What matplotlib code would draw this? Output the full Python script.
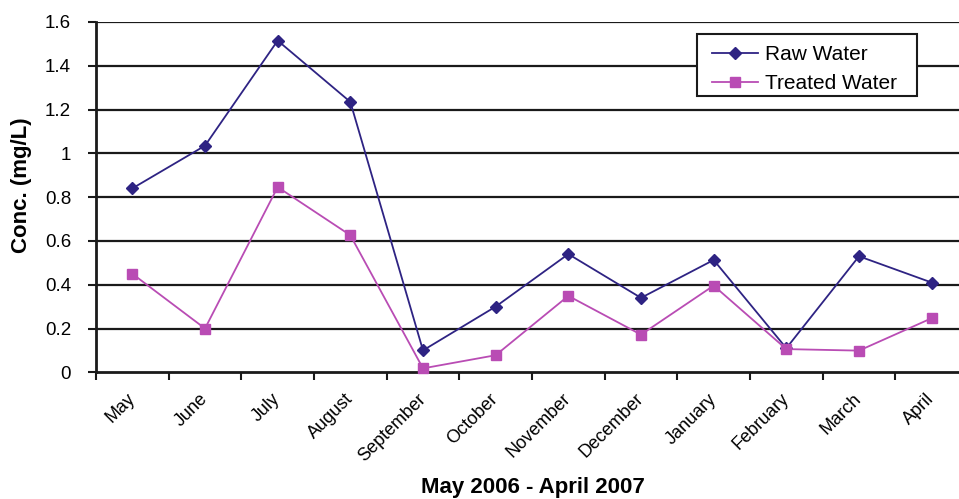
import matplotlib
matplotlib.use("Agg")
import matplotlib.pyplot as plt
import matplotlib.transforms as mtransforms
from matplotlib.patches import Rectangle
import numpy as np

months = ["May", "June", "July", "August", "September", "October", "November",
          "December", "January", "February", "March", "April"]
raw_water = [0.84, 1.035, 1.515, 1.235, 0.10, 0.30, 0.54, 0.34, 0.513, 0.11, 0.53, 0.41]
treated_water = [0.45, 0.20, 0.846, 0.626, 0.018, 0.078, 0.349, 0.172, 0.396, 0.106, 0.099, 0.247]
y_ticks = [0, 0.2, 0.4, 0.6, 0.8, 1, 1.2, 1.4, 1.6]
y_tick_labels = ["0", "0.2", "0.4", "0.6", "0.8", "1", "1.2", "1.4", "1.6"]

plt.rcParams['font.family'] = ['Liberation Sans', 'DejaVu Sans']

W, H = 959, 499
fig = plt.figure(figsize=(W / 100, H / 100), dpi=100)
left, right, bottom, top = 96, 968, 372.3, 22
ax = fig.add_axes([left / W, 1 - bottom / H, (right - left) / W, (bottom - top) / H])

x = np.arange(len(months))
ax.plot(x, raw_water, color="#2e2383", marker="D", markersize=6, lw=1.3,
        label="Raw Water", clip_on=False, zorder=3)
ax.plot(x, treated_water, color="#b94cb4", marker="s", markersize=7.5, lw=1.3,
        label="Treated Water", clip_on=False, zorder=3)

ax.set_xlim(-0.5, len(months) - 0.5)
ax.set_ylim(0, 1.6)
ax.set_yticks(y_ticks)
ax.set_yticklabels(y_tick_labels, fontsize=13.5)
for yv in y_ticks[1:]:
    ax.axhline(yv, color="#1a1a1a", lw=1.6, zorder=1)

ax.set_xticks(x)
ax.set_xticklabels(months, fontsize=13, rotation=45, ha="right", va="top",
                   rotation_mode="anchor")
ax.tick_params(axis="x", which="major", length=0, pad=8)
offset = mtransforms.ScaledTranslation(-6 / 100, -7 / 100, fig.dpi_scale_trans)
for lab in ax.get_xticklabels():
    lab.set_transform(lab.get_transform() + offset)
ax.set_xticks(np.arange(-0.5, len(months), 1), minor=True)
ax.tick_params(axis="x", which="minor", length=6, width=1.5, color="#1a1a1a")
ax.tick_params(axis="y", length=6, width=1.5, color="#1a1a1a", pad=12)

for s in ["top", "right"]:
    ax.spines[s].set_visible(False)
ax.spines["left"].set_linewidth(2)
ax.spines["bottom"].set_linewidth(2)
ax.spines["left"].set_color("#1a1a1a")
ax.spines["bottom"].set_color("#1a1a1a")

fig.text(22 / W, 1 - 185 / H, "Conc. (mg/L)", fontsize=16, fontweight="bold",
         rotation=90, ha="center", va="center")
fig.text(533 / W, 1 - 487 / H, "May 2006 - April 2007", fontsize=16,
         fontweight="bold", ha="center", va="center")

# legend frame drawn explicitly (figure pixel box)
box = Rectangle((696.5 / W, 1 - 96 / H), (917 - 696.5) / W, (96 - 34) / H,
                transform=fig.transFigure, facecolor="white", edgecolor="#1a1a1a",
                linewidth=1.5, zorder=4, clip_on=False)
ax.add_patch(box)

leg = ax.legend(loc="upper left",
                bbox_to_anchor=((703.5 - left) / (right - left), 1 - (36.5 - top) / (bottom - top)),
                fontsize=15, frameon=False, borderaxespad=0,
                handlelength=2.2, borderpad=0.4, labelspacing=0.5, handletextpad=0.37)
leg.set_zorder(5)

fig.savefig("out.png", dpi=100)
